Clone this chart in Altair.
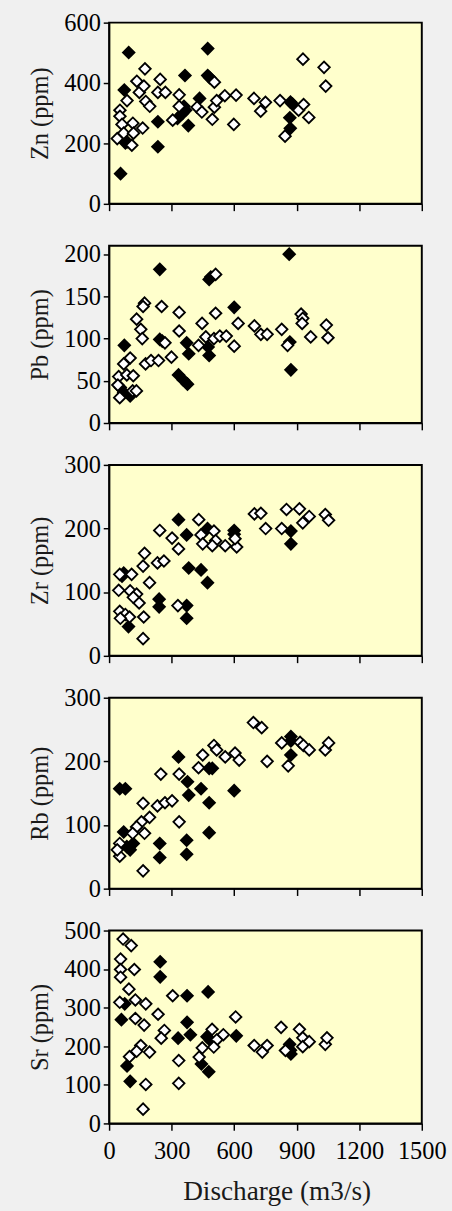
import altair as alt
import pandas as pd

FONT = "Liberation Serif"
discharge_ticks = [0, 300, 600, 900, 1200, 1500]

# ---- Zn (ppm) ----
zn_filled_q = [55, 73, 78, 86, 94, 234, 234, 328, 352, 359, 364, 380, 367, 434, 473, 473, 482, 870, 867, 869, 880]
zn_filled_v = [100, 377, 202, 205, 501, 272, 189, 283, 299, 323, 425, 259, 310, 349, 514, 425, 418, 337, 285, 250, 330]
zn_open_q = [39, 52, 52, 62, 70, 86, 109, 114, 117, 133, 145, 161, 167, 172, 176, 195, 234, 245, 270, 305,
             336, 336, 422, 445, 495, 505, 505, 516, 555, 609, 598, 695, 727, 750, 820, 844, 909, 933, 958, 930, 1031, 1039]
zn_open_v = [216, 310, 290, 263, 234, 342, 194, 267, 234, 406, 369, 251, 390, 447, 339, 323, 369, 412, 369, 277,
             361, 323, 320, 304, 280, 403, 320, 342, 358, 360, 263, 349, 307, 336, 342, 224, 310, 329, 286, 479, 452, 390]

# ---- Pb (ppm) ----
pb_filled_q = [243, 480, 488, 600, 73, 243, 255, 372, 382, 475, 480, 333, 356, 376, 54, 70, 101, 864, 867, 872]
pb_filled_v = [182, 170, 173, 137, 92, 99, 97, 95, 82, 90, 80, 57, 51, 46, 42, 36, 32, 200, 96, 63]
pb_open_q = [511, 170, 163, 252, 336, 511, 132, 446, 619, 697, 828, 728, 758, 152, 159, 336, 268, 429, 464, 503,
             531, 562, 600, 101, 70, 175, 201, 237, 299, 46, 85, 116, 42, 113, 131, 51, 856, 921, 929, 926, 967, 1042, 1050]
pb_open_v = [176, 142, 138, 138, 131, 130, 123, 118, 118, 115, 111, 105, 105, 111, 100, 109, 95, 92, 102, 100,
             103, 103, 91, 77, 70, 70, 74, 74, 78, 55, 57, 56, 45, 38, 38, 30, 92, 129, 124, 118, 102, 116, 101]

# ---- Zr (ppm) ----
zr_filled_q = [333, 372, 472, 600, 600, 70, 62, 382, 441, 472, 240, 240, 372, 372, 93, 872, 872]
zr_filled_v = [214, 190, 200, 197, 191, 130, 125, 138, 135, 115, 89, 77, 79, 59, 46, 196, 176]
zr_open_q = [430, 243, 302, 333, 441, 503, 511, 495, 449, 557, 612, 697, 728, 751, 828, 851, 170, 163, 232, 263,
             108, 51, 194, 46, 101, 132, 144, 116, 51, 78, 98, 54, 166, 330, 163, 913, 929, 960, 1037, 1053, 604]
zr_open_v = [214, 197, 185, 168, 190, 196, 181, 173, 176, 173, 171, 223, 224, 200, 200, 230, 161, 141, 146, 149,
             128, 128, 115, 103, 102, 97, 83, 92, 70, 65, 61, 59, 61, 79, 27, 231, 209, 219, 222, 213, 184]

# ---- Rb (ppm) ----
rb_filled_q = [333, 51, 78, 376, 382, 441, 480, 495, 600, 480, 480, 243, 243, 372, 372, 70, 85, 101, 116, 872, 872, 872]
rb_filled_v = [207, 157, 157, 168, 147, 157, 189, 189, 154, 135, 88, 71, 49, 76, 54, 89, 66, 61, 71, 239, 232, 210]
rb_open_q = [692, 732, 503, 516, 557, 604, 624, 449, 429, 758, 828, 248, 336, 163, 232, 268, 302, 194, 155, 132,
             113, 170, 336, 51, 51, 39, 163, 859, 916, 932, 960, 1037, 1053]
rb_open_v = [261, 253, 225, 218, 207, 213, 202, 210, 190, 200, 229, 180, 180, 134, 130, 135, 138, 112, 105, 97,
             87, 87, 105, 71, 51, 61, 28, 193, 230, 225, 218, 218, 229]

# ---- Sr (ppm) ----
sr_filled_q = [245, 245, 374, 475, 75, 59, 374, 331, 390, 470, 486, 610, 443, 478, 86, 101, 866, 870, 872]
sr_filled_v = [419, 380, 331, 341, 310, 269, 262, 221, 230, 225, 215, 227, 154, 134, 149, 109, 205, 190, 180]
sr_open_q = [67, 106, 55, 55, 121, 55, 95, 51, 126, 176, 126, 168, 235, 305, 265, 250, 152, 132, 98, 194,
             334, 176, 334, 163, 607, 494, 517, 502, 447, 432, 548, 696, 735, 758, 825, 846, 913, 929, 929, 960, 1037, 1045]
sr_open_v = [478, 461, 426, 399, 399, 379, 348, 314, 320, 310, 272, 255, 283, 331, 241, 221, 202, 187, 173, 185,
             163, 101, 104, 37, 276, 244, 217, 198, 196, 172, 230, 202, 185, 202, 249, 189, 244, 222, 199, 212, 205, 222]

panel_specs = [
    ("Zn (ppm)", zn_filled_q, zn_filled_v, zn_open_q, zn_open_v, [0, 600], [0, 200, 400, 600], 186),
    ("Pb (ppm)", pb_filled_q, pb_filled_v, pb_open_q, pb_open_v, [0, 210], [0, 50, 100, 150, 200], 182),
    ("Zr (ppm)", zr_filled_q, zr_filled_v, zr_open_q, zr_open_v, [0, 300], [0, 100, 200, 300], 196),
    ("Rb (ppm)", rb_filled_q, rb_filled_v, rb_open_q, rb_open_v, [0, 300], [0, 100, 200, 300], 196),
    ("Sr (ppm)", sr_filled_q, sr_filled_v, sr_open_q, sr_open_v, [0, 500], [0, 100, 200, 300, 400, 500], 198),
]


def make_panel(title, fq, fv, oq, ov, ydomain, yticks, height, bottom):
    df = pd.DataFrame({
        "discharge": fq + oq,
        "value": fv + ov,
        "kind": ["filled"] * len(fq) + ["open"] * len(oq),
    })
    if bottom:
        xaxis = alt.Axis(values=discharge_ticks, format="d", title="Discharge (m3/s)",
                         labelFont=FONT, titleFont=FONT, labelFontSize=25,
                         labelPadding=9, tickSize=7, titleFontSize=28, titlePadding=15,
                         titleX=172, titleAnchor="start", titleAlign="center",
                         labelFlush=False, labelOverlap=False)
    else:
        xaxis = alt.Axis(values=discharge_ticks, labels=False, title=None, tickSize=7)
    yaxis = alt.Axis(values=yticks, format="d", title=title, labelFont=FONT, titleFont=FONT,
                     labelFontSize=25, tickSize=6, labelPadding=3,
                     titleFontSize=25, titlePadding=12, minExtent=46, maxExtent=46,
                     labelFlush=False, labelOverlap=False)
    return alt.Chart(df).mark_point(
        shape="diamond", filled=True, size=140, stroke="black", strokeWidth=1.9, opacity=1
    ).encode(
        x=alt.X("discharge:Q", scale=alt.Scale(domain=[0, 1500], nice=False, zero=False), axis=xaxis),
        y=alt.Y("value:Q", scale=alt.Scale(domain=ydomain, nice=False), axis=yaxis),
        fill=alt.Fill("kind:N", scale=alt.Scale(domain=["filled", "open"], range=["black", "white"]), legend=None),
    ).properties(width=321, height=height)


panels = [make_panel(*spec, bottom=(i == len(panel_specs) - 1)) for i, spec in enumerate(panel_specs)]

chart = alt.vconcat(*panels, spacing=43, bounds="flush").properties(
    background="#F0F0F0",
    padding={"left": 28, "top": -6, "right": 5, "bottom": 2},
).configure_view(
    fill="#FFFFCC", stroke="black", strokeWidth=2
).configure_axis(
    grid=False, domainColor="black", domainWidth=1.5, tickColor="black", tickWidth=1.5,
    labelFont=FONT, titleFont=FONT, labelColor="black", titleColor="#1a1a1a",
    titleFontWeight="normal"
)

chart.save("out.html", embed_options={"renderer": "svg", "actions": False})
